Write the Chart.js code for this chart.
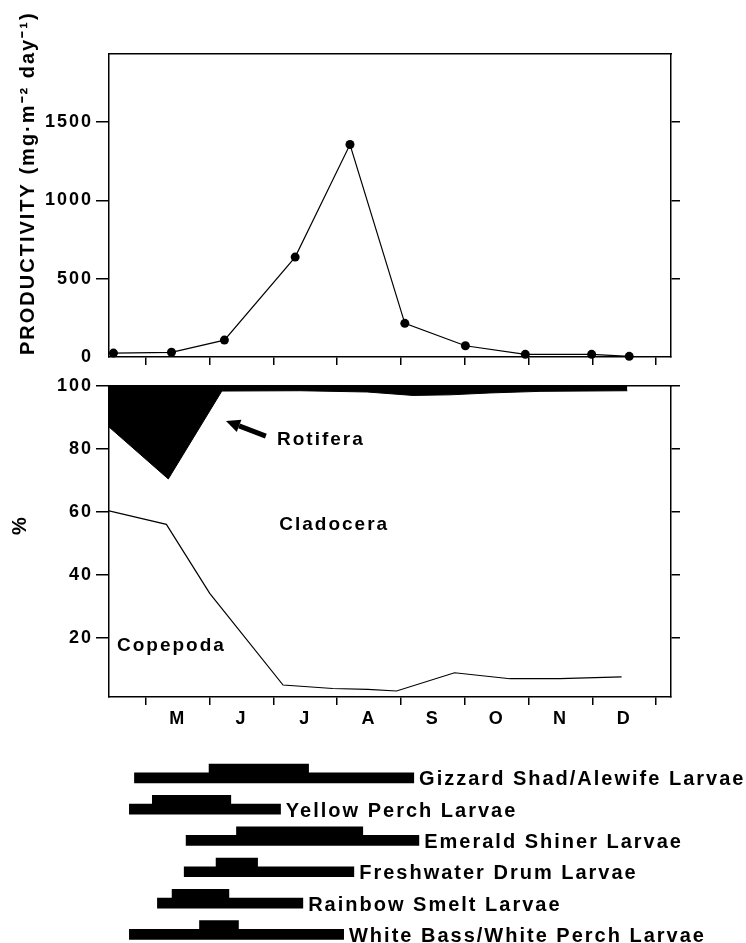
<!DOCTYPE html>
<html>
<head>
<meta charset="utf-8">
<script src="https://cdn.jsdelivr.net/npm/chart.js@4.4.1/dist/chart.umd.min.js"></script>
<style>
  html, body { margin: 0; padding: 0; background: #fff; }
  #page { position: relative; width: 746px; height: 943px; overflow: hidden; }
  .box { position: absolute; left: 0; width: 746px; }
</style>
</head>
<body>
<div id="page">
  <div class="box" style="top:0;height:380px"><canvas id="prodChart"></canvas></div>
  <div class="box" style="top:370px;height:380px"><canvas id="pctChart"></canvas></div>
  <div class="box" style="top:750px;height:193px"><canvas id="larvaeChart"></canvas></div>
</div>
<script>
// x is in months: 5 = 1 May ... 13 = 1 Jan
const monthTicks = [5, 6, 7, 8, 9, 10, 11, 12, 13];
const monthMid = [5.5, 6.5, 7.5, 8.5, 9.5, 10.5, 11.5, 12.5];
const monthLabels = ['M', 'J', 'J', 'A', 'S', 'O', 'N', 'D'];

// productivity (mg m-2 day-1)
const prodMonth = [4.49, 5.40, 6.23, 7.34, 8.20, 9.06, 10.01, 10.95, 11.99, 12.58];
const productivity = [25, 30, 108, 638, 1357, 215, 72, 17, 17, 4];
const prodTicks = [0, 500, 1000, 1500];

// % composition: rotifera is the band above its lower edge, copepoda below its line
const rotMonth = [4.42, 5.35, 6.19, 7.42, 8.47, 9.19, 9.77, 10.40, 11.18, 12.55];
const rotLower = [87, 70.5, 98.4, 98.5, 98.1, 97.0, 97.2, 97.8, 98.3, 98.5];
const copMonth = [4.42, 5.32, 6.00, 7.15, 7.93, 8.48, 8.93, 9.84, 10.71, 11.49, 12.46];
const copepoda = [60.4, 56.1, 34.2, 5.1, 4.0, 3.7, 3.2, 9.0, 7.1, 7.1, 7.7];
const pctTicks = [20, 40, 60, 80, 100];

// larval fish occurrence (months), thick part = peak
const larvae = ['Gizzard Shad/Alewife Larvae', 'Yellow Perch Larvae', 'Emerald Shiner Larvae',
  'Freshwater Drum Larvae', 'Rainbow Smelt Larvae', 'White Bass/White Perch Larvae'];
const seasonStart = [4.83, 4.75, 5.64, 5.61, 5.19, 4.75];
const seasonEnd = [9.19, 7.10, 9.27, 8.25, 7.45, 8.09];
const peakStart = [6.00, 5.11, 6.43, 6.11, 5.42, 5.85];
const peakEnd = [7.54, 6.32, 8.39, 6.74, 6.29, 6.44];

const xMin = 4.42, xMax = 13.235;
const FONT = "'Liberation Sans', Arial, sans-serif";

Chart.defaults.font.family = FONT;
Chart.defaults.font.weight = 'bold';
Chart.defaults.font.size = 18;
Chart.defaults.color = '#000';
Chart.defaults.animation = false;
Chart.defaults.maintainAspectRatio = false;
Chart.defaults.plugins.legend.display = false;
Chart.defaults.plugins.tooltip.enabled = false;

// old typewriter-ish tracking
Chart.register({
  id: 'spacing',
  beforeDraw(chart) { chart.ctx.letterSpacing = '2px'; }
});

function fixSize(size) {
  return scale => {
    if (scale.isHorizontal()) scale.height = size;
    else scale.width = size;
  };
}
function setTicks(list) {
  return scale => { scale.ticks = list.map(v => ({ value: v })); };
}
const frame = { color: '#000', width: 1.5 };
function tickMarks(len) {
  return { drawOnChartArea: false, tickLength: len, color: '#000', lineWidth: 1.5 };
}
function topBorder() {
  return { type: 'linear', position: 'top', min: xMin, max: xMax,
    ticks: { display: false }, grid: { display: false, drawTicks: false },
    border: frame, afterFit: fixSize(0) };
}

const prodTitle = {
  id: 'prodTitle',
  afterDraw(chart) {
    const ctx = chart.ctx;
    ctx.save();
    ctx.translate(28, chart.chartArea.bottom - 2);
    ctx.rotate(-Math.PI / 2);
    ctx.font = 'bold 20px ' + FONT;
    ctx.fillStyle = '#000';
    ctx.textAlign = 'left';
    ctx.textBaseline = 'middle';
    ctx.fillText('PRODUCTIVITY (mg·m⁻² day⁻¹)', 0, 0);
    ctx.restore();
  }
};

new Chart(document.getElementById('prodChart'), {
  type: 'line',
  data: {
    datasets: [{
      data: prodMonth.map((m, i) => ({ x: m, y: productivity[i] })),
      xAxisID: 'x', yAxisID: 'y',
      borderColor: '#000', borderWidth: 1.2,
      pointRadius: 4.5, pointBackgroundColor: '#000', pointBorderWidth: 0,
      clip: false
    }]
  },
  options: {
    layout: { padding: { top: 54, left: 0, right: 65, bottom: 13 } },
    scales: {
      x: { type: 'linear', min: xMin, max: xMax, afterBuildTicks: setTicks(monthTicks),
        afterFit: fixSize(10), ticks: { display: false }, grid: tickMarks(8), border: frame },
      xTop: topBorder(),
      y: { type: 'linear', min: 0, max: 1935, afterBuildTicks: setTicks(prodTicks),
        afterFit: fixSize(109), ticks: { padding: 3, callback: v => String(v) },
        grid: Object.assign(tickMarks(13), { color: c => (c.tick && c.tick.value === 0) ? 'rgba(0,0,0,0)' : '#000' }),
        border: frame },
      yRight: { type: 'linear', position: 'right', min: 0, max: 1935,
        afterBuildTicks: setTicks([500, 1000, 1500]), afterFit: fixSize(10),
        ticks: { display: false }, grid: tickMarks(9), border: frame }
    }
  },
  plugins: [prodTitle]
});

const notes = [
  { text: 'Rotifera', at: [7.055, 83.0] },
  { text: 'Cladocera', at: [7.09, 56.0] },
  { text: 'Copepoda', at: [4.545, 17.5] }
];
const arrowTail = [6.88, 84.1];
const arrowTip = [6.255, 88.9];

const pctNotes = {
  id: 'pctNotes',
  afterDatasetsDraw(chart) {
    const sx = chart.scales.x, sy = chart.scales.y, ctx = chart.ctx;
    ctx.save();
    ctx.font = 'bold 19px ' + FONT;
    ctx.fillStyle = '#000';
    ctx.strokeStyle = '#000';
    ctx.textAlign = 'left';
    ctx.textBaseline = 'middle';
    notes.forEach(n => ctx.fillText(n.text, sx.getPixelForValue(n.at[0]), sy.getPixelForValue(n.at[1])));

    const fx = sx.getPixelForValue(arrowTail[0]), fy = sy.getPixelForValue(arrowTail[1]);
    const tx = sx.getPixelForValue(arrowTip[0]), ty = sy.getPixelForValue(arrowTip[1]);
    const ang = Math.atan2(ty - fy, tx - fx);
    const head = 14, half = 6.5;
    const bx = tx - head * Math.cos(ang), by = ty - head * Math.sin(ang);
    ctx.lineWidth = 5;
    ctx.beginPath();
    ctx.moveTo(fx, fy);
    ctx.lineTo(bx, by);
    ctx.stroke();
    ctx.beginPath();
    ctx.moveTo(tx, ty);
    ctx.lineTo(bx + half * Math.sin(ang), by - half * Math.cos(ang));
    ctx.lineTo(bx - half * Math.sin(ang), by + half * Math.cos(ang));
    ctx.closePath();
    ctx.fill();

    ctx.translate(20, chart.chartArea.top + 139);
    ctx.rotate(-Math.PI / 2);
    ctx.font = 'bold 20px ' + FONT;
    ctx.textAlign = 'center';
    ctx.fillText('%', 0, 0);
    ctx.restore();
  }
};

new Chart(document.getElementById('pctChart'), {
  type: 'line',
  data: {
    datasets: [{
      label: 'Rotifera',
      data: rotMonth.map((m, i) => ({ x: m, y: rotLower[i] })),
      xAxisID: 'x', yAxisID: 'y',
      fill: 'end', backgroundColor: '#000', borderColor: '#000', borderWidth: 1,
      pointRadius: 0
    }, {
      label: 'Copepoda',
      data: copMonth.map((m, i) => ({ x: m, y: copepoda[i] })),
      xAxisID: 'x', yAxisID: 'y',
      fill: false, borderColor: '#000', borderWidth: 1.2, pointRadius: 0
    }]
  },
  options: {
    layout: { padding: { top: 16, left: 0, right: 65, bottom: 15 } },
    scales: {
      x: { type: 'linear', weight: 0, min: xMin, max: xMax, afterBuildTicks: setTicks(monthTicks),
        afterFit: fixSize(8), ticks: { display: false }, grid: tickMarks(8), border: frame },
      months: { type: 'linear', position: 'bottom', weight: 1, min: xMin, max: xMax,
        afterBuildTicks: setTicks(monthMid), afterFit: fixSize(30),
        ticks: { autoSkip: false, maxRotation: 0, padding: 3, callback: (v, i) => monthLabels[i] },
        grid: { display: false, drawTicks: false }, border: { display: false } },
      xTop: topBorder(),
      y: { type: 'linear', min: 1.3, max: 100, afterBuildTicks: setTicks(pctTicks),
        afterFit: fixSize(109), ticks: { padding: 3, callback: v => String(v) },
        grid: tickMarks(13), border: frame },
      yRight: { type: 'linear', position: 'right', min: 1.3, max: 100,
        afterBuildTicks: setTicks(pctTicks), afterFit: fixSize(10),
        ticks: { display: false }, grid: tickMarks(9), border: frame }
    }
  },
  plugins: [pctNotes]
});

const larvaeLabels = {
  id: 'larvaeLabels',
  afterDatasetsDraw(chart) {
    const ctx = chart.ctx;
    const bars = chart.getDatasetMeta(1).data;
    ctx.save();
    ctx.font = 'bold 20px ' + FONT;
    ctx.fillStyle = '#000';
    ctx.textAlign = 'left';
    ctx.textBaseline = 'middle';
    bars.forEach((bar, i) => {
      ctx.fillText(larvae[i], Math.max(bar.x, bar.base) + 6, bar.y + 2);
    });
    ctx.restore();
  }
};

const barStyle = {
  backgroundColor: '#000', borderWidth: 0, clip: false,
  categoryPercentage: 0.556, barPercentage: 1, inflateAmount: 1
};

new Chart(document.getElementById('larvaeChart'), {
  type: 'bar',
  data: {
    labels: larvae,
    datasets: [
      Object.assign({ label: 'peak', data: peakStart.map((s, i) => [s, peakEnd[i]]) }, barStyle),
      Object.assign({ label: 'season', data: seasonStart.map((s, i) => [s, seasonEnd[i]]) }, barStyle)
    ]
  },
  options: {
    indexAxis: 'y',
    layout: { padding: { top: 23.5, bottom: 13, left: 109, right: 75 } },
    scales: {
      x: { type: 'linear', min: xMin, max: xMax, display: false },
      y: { type: 'category', offset: false, display: false }
    }
  },
  plugins: [larvaeLabels]
});
</script>
</body>
</html>
